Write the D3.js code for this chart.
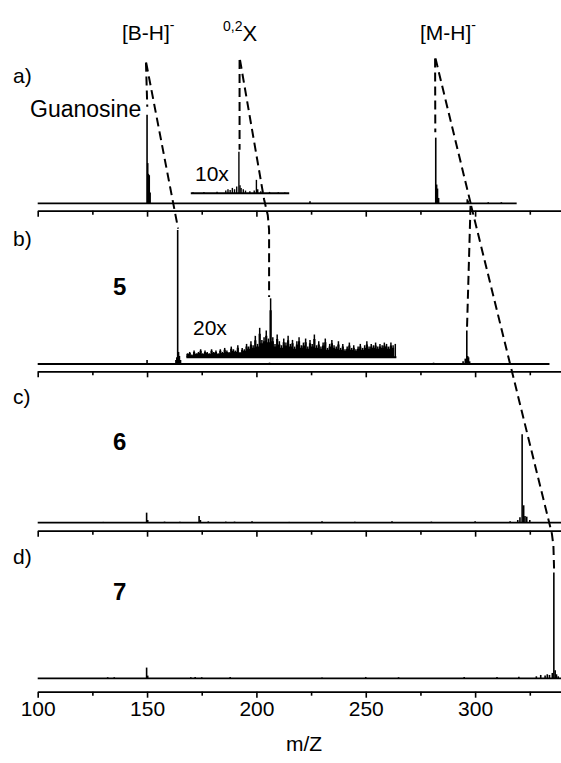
<!DOCTYPE html>
<html>
<head>
<meta charset="utf-8">
<script src="https://cdn.jsdelivr.net/npm/d3@7"></script>
<style>
  body { margin: 0; background: #fff; }
  text { font-family: "Liberation Sans", Arial, sans-serif; fill: #000; }
</style>
</head>
<body>
<svg id="chart"></svg>
<script>
// panel labels and compound names
const panelLabels = ['a)', 'b)', 'c)', 'd)'];
const compounds = ['Guanosine', '5', '6', '7'];
const majorTicks = [100, 150, 200, 250, 300];
const minorTicks = [125, 175, 225, 275, 325];

// main spectra: [m/z, relative intensity]
const specA = [[150.0, 66], [150.3, 30], [150.6, 22], [151.0, 21], [151.4, 8], [224.5, 1.5],
  [282.0, 49], [282.4, 14], [282.8, 11], [283.3, 4], [296.4, 3], [296.8, 2], [306, 0.8], [312, 0.8]];
const specB = [[150, 3], [163.2, 3], [163.6, 5], [164.0, 100], [164.4, 9], [164.8, 6], [165.3, 3],
  [206, 1], [281, 1], [294.5, 2], [295.5, 4], [296.2, 25], [296.6, 6], [297.0, 5], [297.5, 2]];
const specC = [[112, 0.6], [130, 0.6], [149.8, 7.5], [150.3, 2], [158, 0.8], [165, 0.8], [173.8, 5],
  [174.4, 2], [178, 1], [186, 0.8], [190, 0.8], [198, 1], [215, 0.6], [230, 1], [245, 0.8], [262, 1],
  [280, 0.8], [300, 1], [316, 1], [319.5, 2], [320.5, 4], [321.5, 66], [322.2, 13], [322.8, 5],
  [323.6, 4.5], [325, 2]];
const specD = [[132, 0.8], [135, 0.8], [149.8, 8], [150.3, 2], [170, 0.8], [172, 1], [175, 0.8],
  [188, 1], [230, 0.6], [250, 1], [265, 0.8], [295, 1], [310, 1], [320, 1.2], [328, 1.5], [330, 2.5],
  [332, 2], [333, 3], [334, 2.5], [335.3, 4], [336.0, 79], [336.6, 6], [337.2, 3], [338, 1.5]];
const specRanges = [[100, 319], [100, 334], [100, 340], [100, 340]];

// 10x inset in a), sparse peaks
const insetA = [[171, 0.8], [176, 1], [182, 1.2], [186, 2], [187, 3], [188, 2.5], [189, 4], [190, 3],
  [191, 5], [192, 31], [192.5, 6], [193, 4], [194, 3], [195, 2], [197, 1.5], [199, 2], [200, 10],
  [200.6, 3], [202, 1.5], [206, 1], [210, 0.8], [213, 0.6]];
const insetARange = [170, 215];
const insetAOffset = 7.5;

// 20x inset in b), one value per m/z from 168 to 263
const insetBStart = 168;
const insetBValues = [
  3, 4, 2, 5, 3, 4, 6, 3, 5, 4, 3, 6, 4,
  5, 3, 6, 4, 7, 5, 4, 8, 6, 5, 9, 4, 7, 6, 10,
  8, 12, 9, 16, 10, 22, 13, 15, 20, 14,
  44,
  15, 10, 17, 12, 9, 14, 11, 16, 10, 13, 8, 12, 15, 9,
  11, 14, 8, 13, 10, 17, 9, 12, 8, 11, 14, 7, 10, 13, 9, 8, 12, 7, 10, 6,
  8, 11, 7, 9, 6, 8, 10, 7, 9, 12, 8, 10, 9, 11, 8, 10, 9, 11, 10, 8, 11, 9, 10];
const insetBOffset = 5;

// dashed connectors: [panel, m/z, intensity in that panel's units]
const connectors = [
  [[0, 149.5, 105], [0, 150.1, 72]],
  [[0, 149.6, 105], [1, 164.2, 101]],
  [[0, 192.3, 107], [0, 192.3, 40]],
  [[0, 192.5, 107], [0, 203.5, 3], [1, 205.2, 111], [1, 205.8, 100], [1, 205.8, 50]],
  [[0, 281.7, 108], [0, 281.8, 53]],
  [[0, 281.9, 108], [1, 298.1, 119]],
  [[1, 297.9, 118], [1, 296.3, 27]],
  [[1, 298.2, 118], [2, 333.8, 0.5], [3, 335.1, 108], [3, 335.8, 99], [3, 336.1, 82]],
];

const width = 561;
const height = 763;
const baseY = [203.3, 364, 522.7, 678.3];
const axisY = [210.7, 371.3, 530.7, 691.7];

const svg = d3.select('#chart').attr('width', width).attr('height', height);

const x = d3.scaleLinear().domain([100, 340]).range([37.7, 562.6]);
const yScales = baseY.map(b => d3.scaleLinear().domain([0, 100]).range([b, b - 134]));

const specs = [specA, specB, specC, specD];

specs.forEach((spec, i) => {
  const y = yScales[i];
  const g = svg.append('g');

  g.append('line')
    .attr('x1', x(specRanges[i][0])).attr('x2', x(specRanges[i][1]))
    .attr('y1', y(0)).attr('y2', y(0))
    .attr('stroke', '#000').attr('stroke-width', 1.8);

  g.selectAll('line.peak').data(spec).enter().append('line')
    .attr('class', 'peak')
    .attr('x1', d => x(d[0])).attr('x2', d => x(d[0]))
    .attr('y1', y(0)).attr('y2', d => y(d[1]))
    .attr('stroke', '#000').attr('stroke-width', 1.6);

  const axis = d3.axisBottom(x).tickValues(majorTicks).tickSize(6).tickSizeOuter(0)
    .tickFormat(i === 3 ? d3.format('d') : () => '');
  const ax = svg.append('g').attr('transform', `translate(0,${axisY[i]})`).call(axis);
  ax.select('.domain').attr('stroke-width', 1.8);
  ax.selectAll('.tick line').attr('stroke-width', 1.6);
  ax.selectAll('.tick text').attr('font-size', 21).attr('font-family', '"Liberation Sans", Arial, sans-serif');

  const minor = svg.append('g').attr('transform', `translate(0,${axisY[i]})`)
    .call(d3.axisBottom(x).tickValues(minorTicks).tickSize(4).tickFormat(() => ''));
  minor.select('.domain').remove();
  minor.selectAll('.tick line').attr('stroke-width', 1.6);
});

// inset a) 10x
{
  const y = yScales[0];
  svg.append('line')
    .attr('x1', x(insetARange[0])).attr('x2', x(insetARange[1]))
    .attr('y1', y(insetAOffset)).attr('y2', y(insetAOffset))
    .attr('stroke', '#000').attr('stroke-width', 1.8);
  svg.selectAll('line.insA').data(insetA).enter().append('line')
    .attr('class', 'insA')
    .attr('x1', d => x(d[0])).attr('x2', d => x(d[0]))
    .attr('y1', y(insetAOffset)).attr('y2', d => y(insetAOffset + d[1]))
    .attr('stroke', '#000').attr('stroke-width', 1.4);
}

// inset b) 20x, drawn as dense sticks
{
  const y = yScales[1];
  const pts = insetBValues.map((v, k) => [insetBStart + k, v]);
  const area = d3.area()
    .curve(d3.curveStepAfter)
    .x(d => x(d[0]))
    .y0(y(insetBOffset))
    .y1(d => y(insetBOffset + d[1] * 0.8));
  svg.append('path').datum(pts)
    .attr('d', area)
    .attr('fill', '#000');
  svg.selectAll('line.insB').data(pts).enter().append('line')
    .attr('class', 'insB')
    .attr('x1', d => x(d[0] + 0.5)).attr('x2', d => x(d[0] + 0.5))
    .attr('y1', y(insetBOffset)).attr('y2', d => y(insetBOffset + d[1]))
    .attr('stroke', '#000').attr('stroke-width', 1.5);
  svg.append('line')
    .attr('x1', x(insetBStart)).attr('x2', x(insetBStart + insetBValues.length))
    .attr('y1', y(insetBOffset)).attr('y2', y(insetBOffset))
    .attr('stroke', '#000').attr('stroke-width', 2);
}

// dashed connectors
const connLine = d3.line().x(d => x(d[1])).y(d => yScales[d[0]](d[2]));
svg.selectAll('path.conn').data(connectors).enter().append('path')
  .attr('class', 'conn')
  .attr('d', connLine)
  .attr('fill', 'none').attr('stroke', '#000').attr('stroke-width', 2)
  .attr('stroke-dasharray', '9,5');

// panel letters and compound names
const letterY = [83, 246, 404, 564];
const compoundY = [117, 295, 450, 600];
panelLabels.forEach((t, i) => {
  svg.append('text').attr('x', 13).attr('y', letterY[i]).attr('font-size', 21).text(t);
  svg.append('text')
    .attr('x', i === 0 ? 30 : 113).attr('y', compoundY[i])
    .attr('font-size', i === 0 ? 23 : 24)
    .attr('font-weight', i === 0 ? 'normal' : 'bold')
    .text(compounds[i]);
});

svg.append('text').attr('x', 195).attr('y', 181).attr('font-size', 21).text('10x');
svg.append('text').attr('x', 193).attr('y', 335).attr('font-size', 21).text('20x');

// ion labels
const bh = svg.append('text').attr('x', 122).attr('y', 40).attr('font-size', 21);
bh.append('tspan').text('[B-H]');
bh.append('tspan').attr('font-size', 14).attr('dy', -10).text('-');

const xl = svg.append('text').attr('x', 223).attr('y', 41).attr('font-size', 22);
xl.append('tspan').attr('font-size', 14).attr('dy', -10).text('0,2');
xl.append('tspan').attr('dy', 10).text('X');

const mh = svg.append('text').attr('x', 420).attr('y', 40).attr('font-size', 21);
mh.append('tspan').text('[M-H]');
mh.append('tspan').attr('font-size', 14).attr('dy', -10).text('-');

svg.append('text').attr('x', 304).attr('y', 751).attr('font-size', 21)
  .attr('text-anchor', 'middle').text('m/Z');
</script>
</body>
</html>
